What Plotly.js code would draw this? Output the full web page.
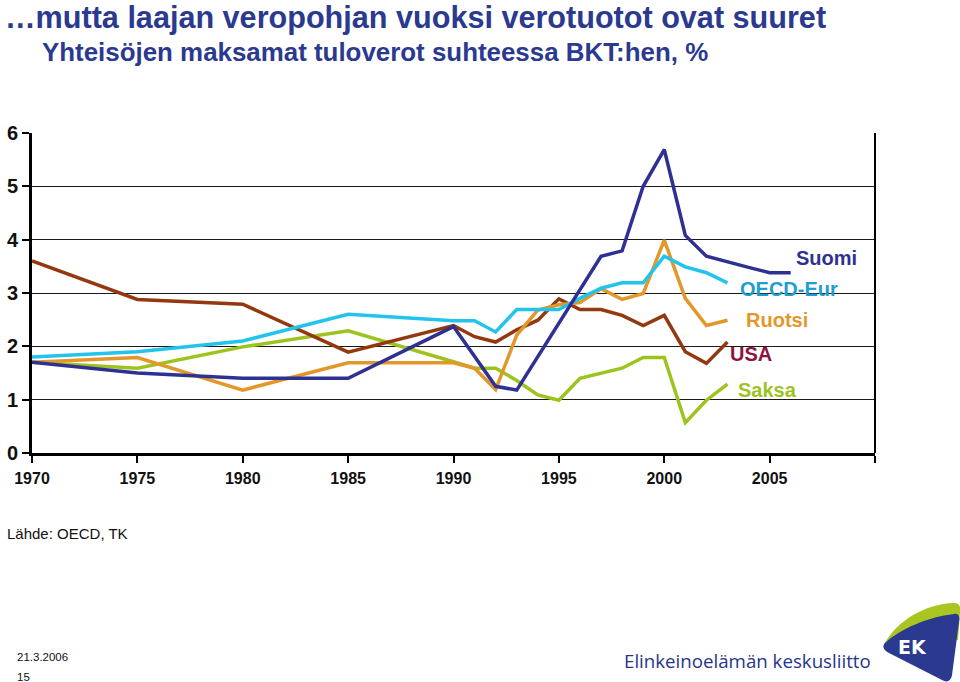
<!DOCTYPE html>
<html>
<head>
<meta charset="utf-8">
<script src="https://cdn.plot.ly/plotly-3.0.1.min.js"></script>
<style>
  html, body { margin: 0; padding: 0; background: #ffffff; }
  #chart { width: 960px; height: 682px; }
</style>
</head>
<body>
<div id="chart"></div>
<script>
// ---- Data ----
const years = [1970, 1975, 1980, 1985, 1990, 1991, 1992, 1993, 1994, 1995, 1996,
               1997, 1998, 1999, 2000, 2001, 2002, 2003, 2004, 2005, 2006];

const suomi   = [1.70, 1.50, 1.40, 1.40, 2.37, 1.80, 1.25, 1.18, 1.80, 2.42, 3.06,
                 3.69, 3.79, 5.00, 5.69, 4.08, 3.69, 3.58, 3.48, 3.38, 3.38];
const oecdEur = [1.80, 1.90, 2.10, 2.60, 2.48, 2.48, 2.27, 2.69, 2.69, 2.69, 2.90,
                 3.09, 3.19, 3.19, 3.69, 3.49, 3.38, 3.19, null, null, null];
const ruotsi  = [1.70, 1.79, 1.18, 1.69, 1.69, 1.59, 1.19, 2.21, 2.68, 2.78, 2.82,
                 3.08, 2.88, 2.99, 3.99, 2.90, 2.39, 2.49, null, null, null];
const usa     = [3.60, 2.88, 2.79, 1.89, 2.39, 2.18, 2.08, 2.31, 2.49, 2.89, 2.69,
                 2.69, 2.58, 2.39, 2.58, 1.90, 1.68, 2.08, null, null, null];
const saksa   = [1.70, 1.59, 1.99, 2.29, 1.71, 1.59, 1.59, 1.36, 1.09, 0.99, 1.40,
                 1.49, 1.59, 1.79, 1.79, 0.57, 0.99, 1.29, null, null, null];

const seriesNames = ["Suomi", "OECD-Eur", "Ruotsi", "USA", "Saksa"];
const xTickVals  = [1970, 1975, 1980, 1985, 1990, 1995, 2000, 2005, 2010];
const xTickText  = ["1970", "1975", "1980", "1985", "1990", "1995", "2000", "2005", ""];
const yTickVals  = [0, 1, 2, 3, 4, 5, 6];

// ---- Styling ----
const lineColors  = {"Suomi": "#2E3192", "OECD-Eur": "#22C4EE", "Ruotsi": "#E3972B", "USA": "#93380F", "Saksa": "#9DC41E"};
const labelColors = {"Suomi": "#2E3192", "OECD-Eur": "#1E9ECF", "Ruotsi": "#E3972B", "USA": "#8E1240", "Saksa": "#9DC41E"};
const labelPos    = {"Suomi": [2007.7, 3.65], "OECD-Eur": [2005.9, 3.08], "Ruotsi": [2005.35, 2.49], "USA": [2004.1, 1.85], "Saksa": [2004.9, 1.18]};

const valuesByName = {"Suomi": suomi, "OECD-Eur": oecdEur, "Ruotsi": ruotsi, "USA": usa, "Saksa": saksa};
const drawOrder = ["Saksa", "USA", "Ruotsi", "OECD-Eur", "Suomi"];

const traces = drawOrder.map(name => ({
  type: "scatter",
  mode: "lines",
  name: name,
  x: years,
  y: valuesByName[name],
  connectgaps: false,
  line: { color: lineColors[name], width: 3.5 },
  hoverinfo: "skip"
}));

const FONT = "Liberation Sans, Arial, Helvetica, sans-serif";
const NAVY = "#2B3990";

// plot area in pixels: x 32..875, y 133..453
const PL = 32, PR = 875, PT = 133, PB = 453;
const px = x => (x - PL) / (PR - PL);
const py = y => (PB - y) / (PB - PT);

const annotations = seriesNames.map(name => ({
  xref: "x", yref: "y",
  x: labelPos[name][0], y: labelPos[name][1],
  text: name, showarrow: false,
  xanchor: "center", yanchor: "middle",
  font: { family: FONT, size: 20, weight: "bold", color: labelColors[name] }
}));

annotations.push(
  { xref: "paper", yref: "paper", x: px(40), y: py(52), xanchor: "left", yanchor: "middle",
    text: "Yhteisöjen maksamat tuloverot suhteessa BKT:hen, %", showarrow: false,
    font: { family: FONT, size: 25.9, weight: "bold", color: NAVY } },
  { xref: "paper", yref: "paper", x: px(5), y: py(533), xanchor: "left", yanchor: "middle",
    text: "Lähde: OECD, TK", showarrow: false,
    font: { family: FONT, size: 15, color: "#111111" } },
  { xref: "paper", yref: "paper", x: px(15), y: py(657), xanchor: "left", yanchor: "middle",
    text: "21.3.2006", showarrow: false,
    font: { family: FONT, size: 11.5, color: "#111111" } },
  { xref: "paper", yref: "paper", x: px(15), y: py(677), xanchor: "left", yanchor: "middle",
    text: "15", showarrow: false,
    font: { family: FONT, size: 11.5, color: "#111111" } },
  { xref: "paper", yref: "paper", x: px(622), y: py(660), xanchor: "left", yanchor: "middle",
    text: "Elinkeinoelämän keskusliitto", showarrow: false,
    font: { family: "Open Sans, Noto Sans, sans-serif", size: 18.7, color: "#26358B" } },
  { xref: "paper", yref: "paper", x: px(912), y: py(647), xanchor: "center", yanchor: "middle",
    text: "EK", showarrow: false,
    font: { family: "DejaVu Sans, sans-serif", size: 19, weight: "bold", color: "#ffffff" } }
);

function logoPath(cmds) {
  // cmds in local pixels relative to (870,595); converted to paper coords
  return cmds.map(c => {
    const op = c[0];
    const nums = c.slice(1);
    const out = [];
    for (let i = 0; i < nums.length; i += 2) {
      out.push(px(870 + nums[i]).toFixed(5) + "," + py(595 + nums[i + 1]).toFixed(5));
    }
    return op + " " + out.join(" ");
  }).join(" ") + " Z";
}

const greenPath = logoPath([
  ["M", 14, 50],
  ["C", 26, 26, 55, 9, 84, 8],
  ["C", 89, 8, 91, 11, 90, 18],
  ["L", 88, 45],
  ["L", 40, 50]
]);
const navyPath = logoPath([
  ["M", 15, 48],
  ["C", 30, 34, 58, 22, 84, 19],
  ["C", 89, 18, 90, 22, 89, 27],
  ["L", 82, 80],
  ["C", 81, 86, 77, 88, 72, 85],
  ["L", 19, 58],
  ["C", 13, 55, 12, 51, 15, 48]
]);

const shapes = [
  { type: "line", xref: "paper", yref: "paper", x0: 1, x1: 1, y0: 0, y1: 1,
    line: { color: "#000000", width: 2 } },
  { type: "path", xref: "paper", yref: "paper", path: greenPath,
    fillcolor: "#A8C520", line: { width: 0 }, layer: "above" },
  { type: "path", xref: "paper", yref: "paper", path: navyPath,
    fillcolor: "#2B3990", line: { width: 0 }, layer: "above" }
];

const layout = {
  width: 960, height: 682,
  paper_bgcolor: "#ffffff", plot_bgcolor: "#ffffff",
  margin: { l: PL, r: 960 - PR, t: PT, b: 682 - PB, pad: 0 },
  showlegend: false,
  title: {
    text: "…mutta laajan veropohjan vuoksi verotuotot ovat suuret",
    xref: "container", yref: "container",
    x: 5 / 960, xanchor: "left",
    y: 1 - 17 / 682, yanchor: "middle",
    font: { family: FONT, size: 30.6, weight: "bold", color: NAVY }
  },
  xaxis: {
    range: [1970, 2010],
    tickmode: "array", tickvals: xTickVals, ticktext: xTickText,
    ticks: "outside", ticklen: 7, tickwidth: 2, tickcolor: "#000000",
    ticklabelstandoff: 2,
    showline: true, linecolor: "#000000", linewidth: 3,
    showgrid: false, zeroline: false,
    tickfont: { family: FONT, size: 16, weight: "bold", color: "#111111" },
    fixedrange: true
  },
  yaxis: {
    range: [0, 6],
    tickmode: "array", tickvals: yTickVals,
    ticks: "outside", ticklen: 7, tickwidth: 2, tickcolor: "#000000",
    ticklabelstandoff: 0,
    showline: true, linecolor: "#000000", linewidth: 3,
    showgrid: true, gridcolor: "#1a1a1a", gridwidth: 1,
    zeroline: false,
    tickfont: { family: FONT, size: 20, weight: "bold", color: "#111111" },
    fixedrange: true
  },
  annotations: annotations,
  shapes: shapes
};

Plotly.newPlot("chart", traces, layout, { staticPlot: true, displayModeBar: false });
</script>
</body>
</html>
